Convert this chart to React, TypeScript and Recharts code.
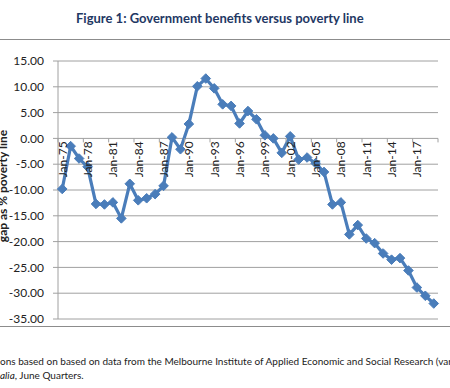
import { CartesianGrid, Line, LineChart, YAxis, XAxis } from "recharts";

const years = [
  "Jan-75", "Jan-76", "Jan-77", "Jan-78", "Jan-79", "Jan-80", "Jan-81", "Jan-82", "Jan-83",
  "Jan-84", "Jan-85", "Jan-86", "Jan-87", "Jan-88", "Jan-89", "Jan-90", "Jan-91", "Jan-92",
  "Jan-93", "Jan-94", "Jan-95", "Jan-96", "Jan-97", "Jan-98", "Jan-99", "Jan-00", "Jan-01",
  "Jan-02", "Jan-03", "Jan-04", "Jan-05", "Jan-06", "Jan-07", "Jan-08", "Jan-09", "Jan-10",
  "Jan-11", "Jan-12", "Jan-13", "Jan-14", "Jan-15", "Jan-16", "Jan-17", "Jan-18", "Jan-19",
];

const gapValues = [
  -9.8, -1.5, -3.9, -5.5, -12.7, -12.8, -12.4, -15.5, -8.8,
  -12.0, -11.6, -10.8, -9.2, 0.2, -2.1, 2.8, 10.1, 11.6,
  9.7, 6.6, 6.3, 2.9, 5.3, 3.7, 0.6, 0.0, -2.8,
  0.4, -4.1, -3.7, -4.8, -6.5, -12.8, -12.4, -18.6, -16.8,
  -19.4, -20.3, -22.3, -23.5, -23.2, -25.6, -28.9, -30.5, -32.0,
];

const xTickLabels = [
  "Jan-75", "Jan-78", "Jan-81", "Jan-84", "Jan-87", "Jan-90", "Jan-93",
  "Jan-96", "Jan-99", "Jan-02", "Jan-05", "Jan-08", "Jan-11", "Jan-14", "Jan-17",
];

const yTicks = [15, 10, 5, 0, -5, -10, -15, -20, -25, -30, -35];

const data = years.map((name, i) => ({ name, gap: gapValues[i] }));

// plot box (Excel-ish layout)
const PLOT_LEFT = 58;
const PLOT_TOP = 61;
const PLOT_RIGHT = 438;
const PLOT_BOTTOM = 319;
const X_AXIS_H = 20;
const Y_MAX = 15;
const Y_MIN = -35;
const ZERO_Y = PLOT_TOP + ((PLOT_BOTTOM - PLOT_TOP) * Y_MAX) / (Y_MAX - Y_MIN);
const STEP = (PLOT_RIGHT - PLOT_LEFT) / years.length;

const FONT = "Lato, 'Open Sans', sans-serif";
const BLUE = "#4a7dba";
const GRID = "#a0a0a0";

const Diamond = (props: any) => {
  const { cx, cy } = props;
  if (cx == null || cy == null) return null;
  const r = 4.8;
  return (
    <polygon
      points={`${cx},${cy - r} ${cx + r},${cy} ${cx},${cy + r} ${cx - r},${cy}`}
      fill={BLUE}
      stroke={BLUE}
    />
  );
};

const XTick = (props: any) => {
  const { x, payload, index } = props;
  if (!xTickLabels.includes(payload.value)) return null;
  const left = x - STEP / 2;
  return (
    <g>
      <line x1={left} x2={left} y1={ZERO_Y} y2={ZERO_Y + 4} stroke={GRID} />
      {index === years.length - 3 && (
        <line x1={x + STEP * 2.5} x2={x + STEP * 2.5} y1={ZERO_Y} y2={ZERO_Y + 4} stroke={GRID} />
      )}
      <text
        transform={`translate(${x + 4.5},${ZERO_Y + 3}) rotate(-90)`}
        textAnchor="end"
        fontSize={12}
        fontFamily={FONT}
        fill="#222"
      >
        {payload.value}
      </text>
    </g>
  );
};

export default function App() {
  return (
    <div style={{ position: "absolute", left: 0, top: 0, width: 450, height: 388, background: "#fff", overflow: "hidden", fontFamily: FONT }}>
      <div style={{ position: "absolute", left: 76, top: 10, fontSize: 13, fontWeight: 700, color: "#1f3864", whiteSpace: "nowrap" }}>
        Figure 1: Government benefits versus poverty line
      </div>
      <div style={{ position: "absolute", left: 0, top: 39, width: 450, height: 0, borderTop: "1.5px solid #8c8c8c" }} />
      <div style={{ position: "absolute", left: 0, top: 326, width: 450, height: 0, borderTop: "1.5px solid #8c8c8c" }} />

      <LineChart
        width={450}
        height={388}
        data={data}
        margin={{ top: PLOT_TOP, right: 450 - PLOT_RIGHT, bottom: 388 - PLOT_BOTTOM - X_AXIS_H, left: 8 }}
        style={{ position: "absolute", left: 0, top: 0 }}
      >
        <CartesianGrid vertical={false} stroke={GRID} />
        <XAxis
          dataKey="name"
          height={X_AXIS_H}
          interval={0}
          padding={{ left: STEP / 2, right: STEP / 2 }}
          axisLine={false}
          tickLine={false}
          tick={<XTick />}
        />
        <YAxis
          width={50}
          domain={[Y_MIN, Y_MAX]}
          ticks={yTicks}
          interval={0}
          tickFormatter={(v: number) => v.toFixed(2)}
          axisLine={{ stroke: GRID }}
          tickLine={{ stroke: GRID }}
          tickSize={5}
          tickMargin={9}
          tick={{ fontSize: 12, fill: "#222", fontFamily: FONT }}
        />
        <Line
          type="linear"
          dataKey="gap"
          stroke={BLUE}
          strokeWidth={3.2}
          dot={<Diamond />}
          activeDot={false}
          isAnimationActive={false}
        />
      </LineChart>

      <div style={{ position: "absolute", left: 2, top: 186, width: 0, height: 0 }}>
        <div style={{ position: "absolute", transform: "translate(-50%, -50%) rotate(-90deg)", whiteSpace: "nowrap", fontSize: 12, fontWeight: 700, color: "#222" }}>
          gap as % poverty line
        </div>
      </div>

      <div style={{ position: "absolute", left: 0, top: 355, fontSize: 10, color: "#222", whiteSpace: "nowrap" }}>
        ons based on based on data from the Melbourne Institute of Applied Economic and Social Research (var
      </div>
      <div style={{ position: "absolute", left: 0, top: 369, fontSize: 10, color: "#222", whiteSpace: "nowrap" }}>
        <i>alia</i>, June Quarters.
      </div>
    </div>
  );
}
